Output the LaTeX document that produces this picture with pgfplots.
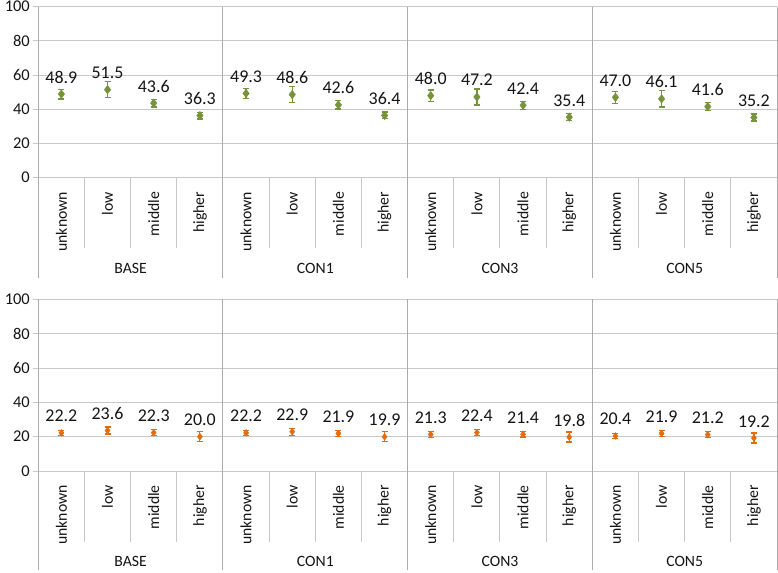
\documentclass[border=0pt]{standalone}
\usepackage{fontspec}
\setmainfont{Carlito}
\usepackage{pgfplots}
\usepackage{pgfplotstable}
\pgfplotsset{compat=1.18}
\definecolor{pgreen}{HTML}{77933C}
\definecolor{porange}{HTML}{E46C0A}
\definecolor{gridc}{HTML}{C8C8C8}
\definecolor{sepc}{HTML}{ABABAB}
\definecolor{txtc}{HTML}{141414}

\pgfplotstableread{
x y e lab
0 48.9 2.9 48.9
1 51.5 4.7 51.5
2 43.6 2.2 43.6
3 36.3 2.0 36.3
4 49.3 2.9 49.3
5 48.6 4.7 48.6
6 42.6 2.4 42.6
7 36.4 2.0 36.4
8 48.0 3.3 48.0
9 47.2 4.7 47.2
10 42.4 2.3 42.4
11 35.4 2.0 35.4
12 47.0 3.6 47.0
13 46.1 4.8 46.1
14 41.6 2.4 41.6
15 35.2 2.0 35.2
}\topdata

\pgfplotstableread{
x y e lab
0 22.2 1.5 22.2
1 23.6 2.0 23.6
2 22.3 1.8 22.3
3 20.0 2.9 20.0
4 22.2 1.5 22.2
5 22.9 2.0 22.9
6 21.9 1.7 21.9
7 19.9 2.9 19.9
8 21.3 1.6 21.3
9 22.4 1.9 22.4
10 21.4 1.6 21.4
11 19.8 2.9 19.8
12 20.4 1.6 20.4
13 21.9 1.9 21.9
14 21.2 1.6 21.2
15 19.2 2.9 19.2
}\botdata

\pgfplotsset{
  panel/.style={
    scale only axis, width=738.7bp,
    xmin=-0.5, xmax=15.5, ymin=0, ymax=100,
    ytick={0,20,...,100}, ymajorgrids,
    grid style={gridc, line width=0.9bp},
    axis line style={draw=none},
    tick align=outside, ytick pos=left, major tick length=5bp,
    ytick style={gridc, line width=0.9bp},
    xtick={0,...,15},
    xticklabels={unknown,low,middle,higher,unknown,low,middle,higher,unknown,low,middle,higher,unknown,low,middle,higher},
    xtick style={draw=none},
    x tick label style={rotate=90, anchor=east, inner sep=0pt, text=txtc, font=\fontsize{15.8}{16}\selectfont},
    xticklabel shift=9bp,
    y tick label style={text=txtc, font=\fontsize{16.5}{17}\selectfont},
    /pgf/number format/assume math mode=true,
    clip=false,
  },
  pts/.style={
    only marks, mark=diamond*, color=#1,
    error bars/y dir=both, error bars/y explicit,
    error bars/error bar style={line width=1.2bp, color=#1},
    error bars/error mark options={rotate=90, mark size=3bp, line width=1.2bp, color=#1},
    nodes near coords, point meta=explicit symbolic,
    nodes near coords style={font=\fontsize{18}{18}\selectfont, text=txtc, anchor=base, yshift=11bp, inner sep=0pt},
  },
}

\begin{document}
\begin{tikzpicture}
\path[use as bounding box] (0,0) rectangle (778bp,-573bp);

% ---------- top panel ----------
\begin{axis}[panel, height=171bp, at={(38.3bp,-177.7bp)}, anchor=south west]
  \addplot[pts=pgreen, mark size=4.3bp] table[x=x, y=y, y error=e, meta=lab]{\topdata};
  \pgfplotsinvokeforeach{-0.5,3.5,7.5,11.5,15.5}{
    \draw[sepc, line width=1bp] (axis cs:#1,100) -- ([yshift=-100.3bp]axis cs:#1,0);
  }
  \pgfplotsinvokeforeach{0.5,1.5,2.5,4.5,5.5,6.5,8.5,9.5,10.5,12.5,13.5,14.5}{
    \draw[gridc, line width=1bp] (axis cs:#1,0) -- ([yshift=-70.3bp]axis cs:#1,0);
  }
  \node[font=\fontsize{15.8}{16}\selectfont, text=txtc] at ([yshift=-90.3bp]axis cs:1.5,0) {BASE};
  \node[font=\fontsize{15.8}{16}\selectfont, text=txtc] at ([yshift=-90.3bp]axis cs:5.5,0) {CON1};
  \node[font=\fontsize{15.8}{16}\selectfont, text=txtc] at ([yshift=-90.3bp]axis cs:9.5,0) {CON3};
  \node[font=\fontsize{15.8}{16}\selectfont, text=txtc] at ([yshift=-90.3bp]axis cs:13.5,0) {CON5};
\end{axis}

% ---------- bottom panel ----------
\begin{axis}[panel, height=171.7bp, at={(38.3bp,-471bp)}, anchor=south west]
  \addplot[pts=porange, mark size=3.4bp] table[x=x, y=y, y error=e, meta=lab]{\botdata};
  \pgfplotsinvokeforeach{-0.5,3.5,7.5,11.5,15.5}{
    \draw[sepc, line width=1bp] (axis cs:#1,100) -- ([yshift=-99bp]axis cs:#1,0);
  }
  \pgfplotsinvokeforeach{0.5,1.5,2.5,4.5,5.5,6.5,8.5,9.5,10.5,12.5,13.5,14.5}{
    \draw[gridc, line width=1bp] (axis cs:#1,0) -- ([yshift=-70.7bp]axis cs:#1,0);
  }
  \node[font=\fontsize{15.8}{16}\selectfont, text=txtc] at ([yshift=-90bp]axis cs:1.5,0) {BASE};
  \node[font=\fontsize{15.8}{16}\selectfont, text=txtc] at ([yshift=-90bp]axis cs:5.5,0) {CON1};
  \node[font=\fontsize{15.8}{16}\selectfont, text=txtc] at ([yshift=-90bp]axis cs:9.5,0) {CON3};
  \node[font=\fontsize{15.8}{16}\selectfont, text=txtc] at ([yshift=-90bp]axis cs:13.5,0) {CON5};
\end{axis}
\end{tikzpicture}
\end{document}
